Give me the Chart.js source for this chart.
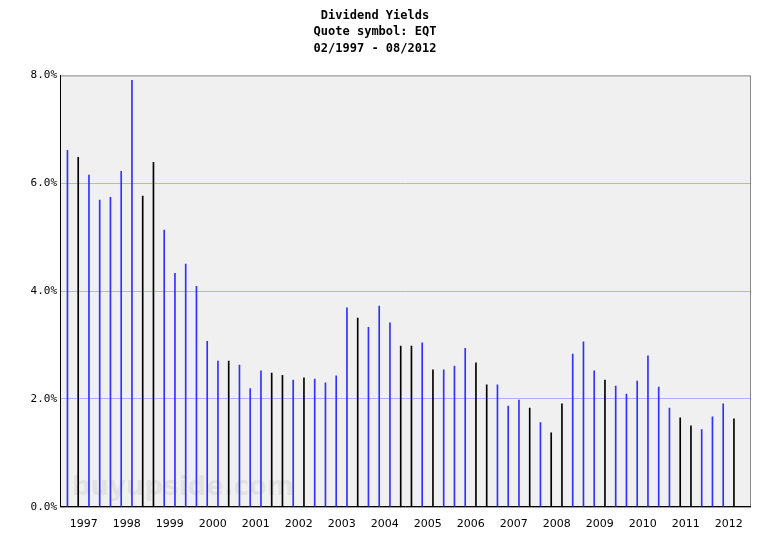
<!DOCTYPE html>
<html>
<head>
<meta charset="UTF-8">
<script src="https://cdn.jsdelivr.net/npm/chart.js"></script>
<style>
  body { margin: 0; background: #fff; }
  #wrap { width: 784px; height: 548px; }
</style>
</head>
<body>
<div id="wrap"><canvas id="chart"></canvas></div>
<script>
  // quarterly dividend yield (%), 02/1997 - 08/2012
  const months = ['02', '05', '08', '11']
  const yields = [6.61, 6.48, 6.15, 5.69, 5.74, 6.22, 7.91, 5.76, 6.39, 5.13, 4.33, 4.50, 4.09,
    3.07, 2.70, 2.70, 2.63, 2.19, 2.52, 2.48, 2.44, 2.35, 2.39, 2.37, 2.30, 2.43,
    3.69, 3.50, 3.33, 3.72, 3.41, 2.98, 2.98, 3.04, 2.54, 2.54, 2.61, 2.94, 2.67,
    2.26, 2.26, 1.87, 1.98, 1.83, 1.56, 1.37, 1.91, 2.83, 3.06, 2.52, 2.35, 2.24,
    2.09, 2.33, 2.80, 2.22, 1.83, 1.65, 1.50, 1.43, 1.67, 1.91, 1.63]
  // 'b' = blue bar, 'k' = black bar
  const barKinds = 'bkbbbbbkkbbbbbbkbbbkkbkbbbbkbbbkkbkbbbkkbbbkbkkbbbkbbbbbbkkbbbk'.split('')
  const yTicks = [0, 2, 4, 6, 8]
  const years = [1997, 1998, 1999, 2000, 2001, 2002, 2003, 2004, 2005, 2006, 2007, 2008, 2009, 2010, 2011, 2012]

  const points = yields.map((v, i) => {
    const year = 1997 + Math.floor(i / 4)
    const m = parseInt(months[i % 4])
    return { x: year + (m - 1) / 12 + 0.04, y: v }
  })
  const xMin = 1996.95, xMax = xMin + 690 / 43

  const watermark = {
    id: 'watermark',
    beforeDatasetsDraw(chart) {
      const c = chart.ctx, a = chart.chartArea
      c.save()
      c.font = 'bold 26px "DejaVu Sans"'
      c.fillStyle = 'rgba(200,200,200,0.35)'
      c.fillText('buyupside.com', a.left + 12, a.bottom - 12)
      c.restore()
    }
  }

  new Chart(document.getElementById('chart'), {
    type: 'bar',
    data: {
      datasets: [{
        data: points,
        backgroundColor: barKinds.map(k => k === 'b' ? '#3030ff' : '#000000'),
        barThickness: 1,
        grouped: false
      }]
    },
    options: {
      responsive: true,
      maintainAspectRatio: false,
      animation: false,
      layout: { padding: { top: 0, right: 34, bottom: 14, left: 0 } },
      plugins: {
        legend: { display: false },
        tooltip: { enabled: false },
        title: {
          display: true,
          text: ['Dividend Yields', 'Quote symbol: EQT', '02/1997 - 08/2012'],
          font: { family: 'DejaVu Sans Mono', size: 12, weight: 'bold', lineHeight: 1.4 },
          color: '#000',
          padding: { top: 7, bottom: 18 }
        }
      },
      scales: {
        x: {
          type: 'linear',
          offset: false,
          min: xMin,
          max: xMax,
          afterBuildTicks: s => { s.ticks = years.map(y => ({ value: y + 0.5 })) },
          ticks: {
            callback: v => String(Math.floor(v)),
            font: { family: 'DejaVu Sans', size: 11 },
            color: '#000',
            maxRotation: 0,
            autoSkip: false
          },
          grid: { display: false, drawTicks: true },
          border: { color: '#000' }
        },
        y: {
          min: 0,
          max: 8,
          afterBuildTicks: s => { s.ticks = yTicks.map(v => ({ value: v })) },
          afterFit: s => { s.width = 60 },
          ticks: {
            callback: v => v.toFixed(1) + '%',
            font: { family: 'DejaVu Sans Mono', size: 11 },
            color: '#000'
          },
          grid: {
            color: c => (c.tick.value === 0 || c.tick.value === 8) ? 'rgba(0,0,0,0)' : '#b0b0ff',
            drawTicks: false
          },
          border: { color: '#000' }
        }
      }
    },
    plugins: [watermark, {
      id: 'bg',
      beforeDraw(chart) {
        const c = chart.ctx, a = chart.chartArea
        c.save()
        c.fillStyle = '#f0f0f0'
        c.fillRect(a.left, a.top, a.right - a.left, a.bottom - a.top)
        c.strokeStyle = '#888'
        c.strokeRect(a.left + 0.5, a.top + 0.5, a.right - a.left, a.bottom - a.top)
        c.restore()
      }
    }]
  })
</script>
</body>
</html>
